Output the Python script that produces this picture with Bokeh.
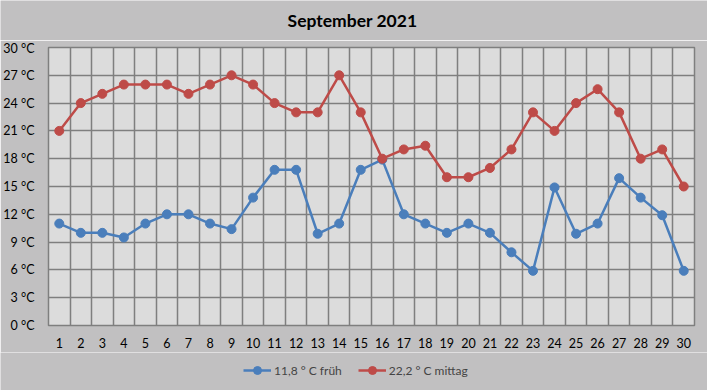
from bokeh.plotting import figure
from bokeh.layouts import column
from bokeh.models import (ColumnDataSource, FixedTicker, Legend, LegendItem, Label, Range1d)
from bokeh.embed import file_html
from bokeh.resources import INLINE

days = list(range(1, 31))
frueh = [11, 10, 10, 9.5, 11, 12, 12, 11, 10.4, 13.8, 16.8, 16.8, 9.9, 11, 16.8, 17.9,
         12, 11, 10, 11, 10, 7.9, 5.9, 14.9, 9.9, 11, 15.9, 13.8, 11.9, 5.9]
mittag = [21, 24, 25, 26, 26, 26, 25, 26, 27, 26, 24, 23, 23, 27, 23, 18,
          19, 19.4, 16, 16, 17, 19, 23, 21, 24, 25.5, 23, 18, 19, 15]
y_ticks = [0, 3, 6, 9, 12, 15, 18, 21, 24, 27, 30]
y_labels = {t: f"{t} °C" for t in y_ticks}
title_text = "September 2021"
name_frueh = "11,8 ° C früh"
name_mittag = "22,2 ° C mittag"

FONT = "Lato"
blue = "#4a7ebb"
red = "#be4b48"
BG = "#c1c0c1"


def strip(h):
    f = figure(width=707, height=h, output_backend="svg", toolbar_location=None,
               x_range=Range1d(0, 707), y_range=Range1d(0, h),
               x_axis_type=None, y_axis_type=None,
               min_border_left=0, min_border_right=0, min_border_top=0, min_border_bottom=0)
    f.frame_align = False
    f.border_fill_color = BG
    f.background_fill_color = BG
    f.outline_line_color = None
    f.xgrid.visible = False
    f.ygrid.visible = False
    return f


# title strip
top = strip(40)
top.add_layout(Label(x=352, y=20, text=title_text, text_align="center", text_baseline="middle",
                     text_font=FONT, text_font_size="17.5px", text_font_style="bold",
                     text_color="black"))

# main chart
p = figure(width=707, height=312, output_backend="svg", toolbar_location=None,
           x_range=Range1d(0.5, 30.5), y_range=Range1d(0, 30),
           min_border_left=46, min_border_right=13, min_border_top=7, min_border_bottom=27)
p.frame_align = False
p.border_fill_color = BG
p.background_fill_color = "#dcdcdc"
p.outline_line_color = "#7f7f7f"
p.outline_line_width = 1.5

src = ColumnDataSource(dict(x=days, f=frueh, m=mittag))
p.line("x", "f", source=src, line_color=blue, line_width=2.5)
p.scatter("x", "f", source=src, size=9, fill_color=blue, line_color=blue)
p.line("x", "m", source=src, line_color=red, line_width=2.5)
p.scatter("x", "m", source=src, size=9, fill_color=red, line_color=red)

p.xaxis.ticker = FixedTicker(ticks=days)
p.yaxis.ticker = FixedTicker(ticks=y_ticks)
p.yaxis.major_label_overrides = y_labels
p.xgrid.ticker = FixedTicker(ticks=[d + 0.5 for d in days[:-1]])
p.ygrid.ticker = FixedTicker(ticks=y_ticks[1:-1])
for g in (p.xgrid, p.ygrid):
    g.grid_line_color = "#7f7f7f"
    g.grid_line_width = 1.5
for ax in (p.xaxis, p.yaxis):
    ax.axis_line_color = None
    ax.major_tick_line_color = None
    ax.minor_tick_line_color = None
    ax.major_label_text_font = FONT
    ax.major_label_text_font_size = "12.5px"
    ax.major_label_text_color = "black"
p.xaxis.major_label_standoff = 6
p.yaxis.major_label_standoff = 8

# legend strip (series drawn out of view, only used for the legend glyphs)
q = strip(38)
q.y_range = Range1d(1000, 2000)
l1 = q.line("x", "f", source=src, line_color=blue, line_width=2.5)
c1 = q.scatter("x", "f", source=src, size=9, fill_color=blue, line_color=blue)
l2 = q.line("x", "m", source=src, line_color=red, line_width=2.5)
c2 = q.scatter("x", "m", source=src, size=9, fill_color=red, line_color=red)
legend = Legend(items=[LegendItem(label=name_frueh, renderers=[l1, c1]),
                       LegendItem(label=name_mittag, renderers=[l2, c2])],
                orientation="horizontal", location=(243, 10),
                background_fill_alpha=0, border_line_color=None,
                label_text_font=FONT, label_text_font_size="12px",
                label_standoff=3,
                glyph_width=28, spacing=16, margin=0, padding=0)
q.add_layout(legend, "center")

layout = column(top, p, q, spacing=0)
open("out.html", "w").write(file_html(layout, INLINE))
